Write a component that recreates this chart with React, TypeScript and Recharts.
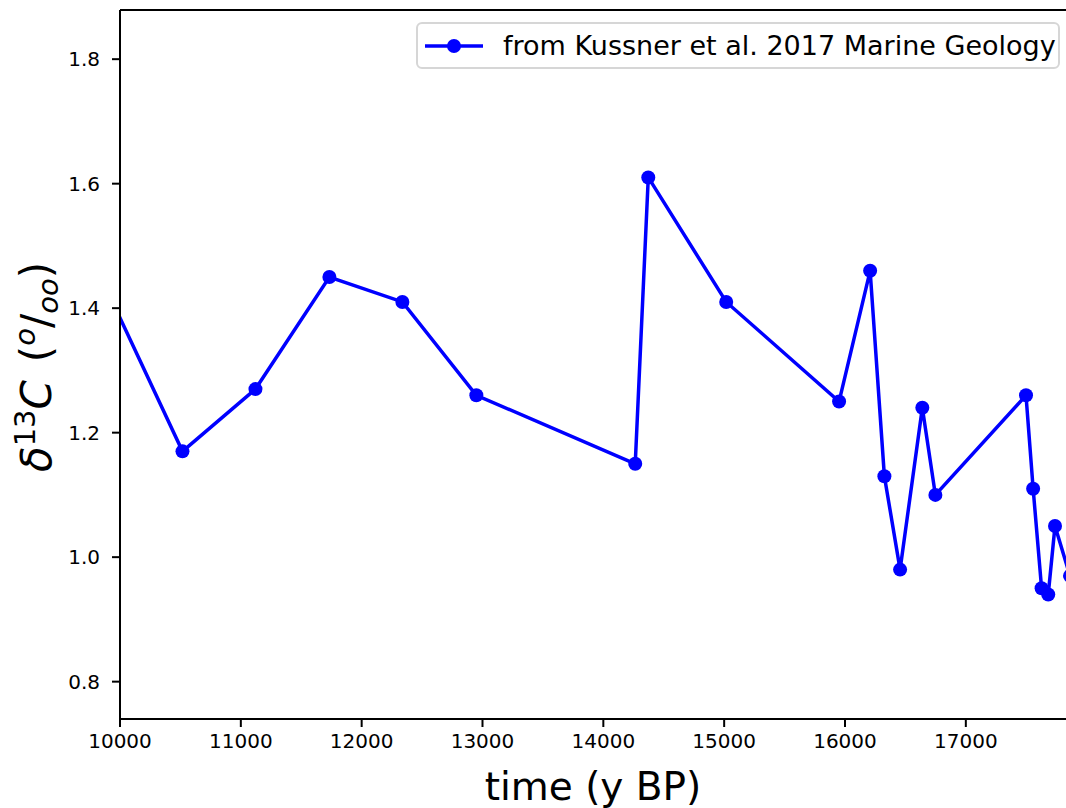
import { LineChart, Line, XAxis, YAxis, Legend, ReferenceLine } from 'recharts';

// sample ages (y BP) and d13C values
const years = [9890, 10517, 11121, 11733, 12337, 12949, 14264, 14372, 15017, 15951, 16208, 16326, 16456, 16640, 16748, 17498, 17557, 17627, 17682, 17738, 17862];
const d13c = [1.43, 1.17, 1.27, 1.45, 1.41, 1.26, 1.15, 1.61, 1.41, 1.25, 1.46, 1.13, 0.98, 1.24, 1.1, 1.26, 1.11, 0.95, 0.94, 1.05, 0.97];

const xTicks = [10000, 11000, 12000, 13000, 14000, 15000, 16000, 17000];
const yTicks = [0.8, 1.0, 1.2, 1.4, 1.6, 1.8];
const seriesName = 'from Kussner et al. 2017 Marine Geology';

const X_MIN = 10000;
const X_MAX = 17829;
const Y_MIN = 0.74;
const Y_MAX = 1.879;

const data = years.map((t, i) => ({ t, v: d13c[i] }));

const FONT = '"DejaVu Sans", sans-serif';
const BLUE = '#0000ff';

const XTick = (props: any) => {
  const { x, y, payload } = props;
  return (
    <text x={x} y={y} dy={15} textAnchor="middle" fontFamily={FONT} fontSize={20} fill="#000">
      {payload.value}
    </text>
  );
};

const YTick = (props: any) => {
  const { x, y, payload } = props;
  return (
    <text x={x} y={y} dy={7} textAnchor="end" fontFamily={FONT} fontSize={20} fill="#000">
      {Number(payload.value).toFixed(1)}
    </text>
  );
};

const XLabel = (props: any) => {
  const vb = props.viewBox || {};
  return (
    <text x={vb.x + vb.width / 2} y={800} textAnchor="middle" fontFamily={FONT} fontSize={39} fill="#000">
      time (y BP)
    </text>
  );
};

const YLabel = () => (
  <text transform="translate(51, 367) rotate(-90)" textAnchor="middle" fontFamily={FONT} fontSize={42} fill="#000">
    <tspan fontStyle="italic">δ</tspan>
    <tspan fontSize={29} dy={-16}>13</tspan>
    <tspan fontStyle="italic" dy={16}>C</tspan>
    <tspan dx={18}>(</tspan>
    <tspan fontStyle="italic" fontSize={29} dy={-16}>o</tspan>
    <tspan dy={16}>/</tspan>
    <tspan fontStyle="italic" fontSize={29} dy={7}>oo</tspan>
    <tspan dy={-7}>)</tspan>
  </text>
);

const LegendBox = () => (
  <div
    style={{
      boxSizing: 'border-box',
      width: 644,
      height: 47,
      border: '2px solid #d6d6d6',
      borderRadius: 6,
      background: '#fff',
      display: 'flex',
      alignItems: 'center',
      fontFamily: FONT,
      fontSize: 27,
      color: '#000',
    }}
  >
    <svg width={85} height={24} style={{ flexShrink: 0 }}>
      <line x1={7} y1={12} x2={65} y2={12} stroke={BLUE} strokeWidth={3.5} />
      <circle cx={36} cy={12} r={7} fill={BLUE} />
    </svg>
    <span style={{ whiteSpace: 'nowrap' }}>{seriesName}</span>
  </div>
);

const App = () => {
  return (
    <div style={{ position: 'absolute', left: 0, top: 0, width: 1066, height: 808, background: '#fff' }}>
      <LineChart width={1066} height={808} data={data} margin={{ top: 10, right: 0, bottom: 0, left: 0 }}>
        <XAxis
          dataKey="t"
          type="number"
          domain={[X_MIN, X_MAX]}
          allowDataOverflow
          ticks={xTicks}
          height={89}
          tickSize={8}
          tickMargin={6}
          stroke="#000"
          strokeWidth={2}
          tick={<XTick />}
          label={<XLabel />}
        />
        <YAxis
          type="number"
          domain={[Y_MIN, Y_MAX]}
          allowDataOverflow
          ticks={yTicks}
          width={120}
          tickSize={8}
          tickMargin={12}
          stroke="#000"
          strokeWidth={2}
          tick={<YTick />}
          label={<YLabel />}
        />
        <ReferenceLine y={Y_MAX} stroke="#000" strokeWidth={2} />
        <Legend
          layout="vertical"
          align="center"
          verticalAlign="middle"
          content={<LegendBox />}
          wrapperStyle={{ position: 'absolute', left: 416, top: 22, width: 644 }}
        />
        <Line
          type="linear"
          dataKey="v"
          name={seriesName}
          stroke={BLUE}
          strokeWidth={3.5}
          dot={{ r: 7, fill: BLUE, stroke: BLUE, strokeWidth: 0 }}
          activeDot={false}
          isAnimationActive={false}
        />
      </LineChart>
    </div>
  );
};

export default App;
